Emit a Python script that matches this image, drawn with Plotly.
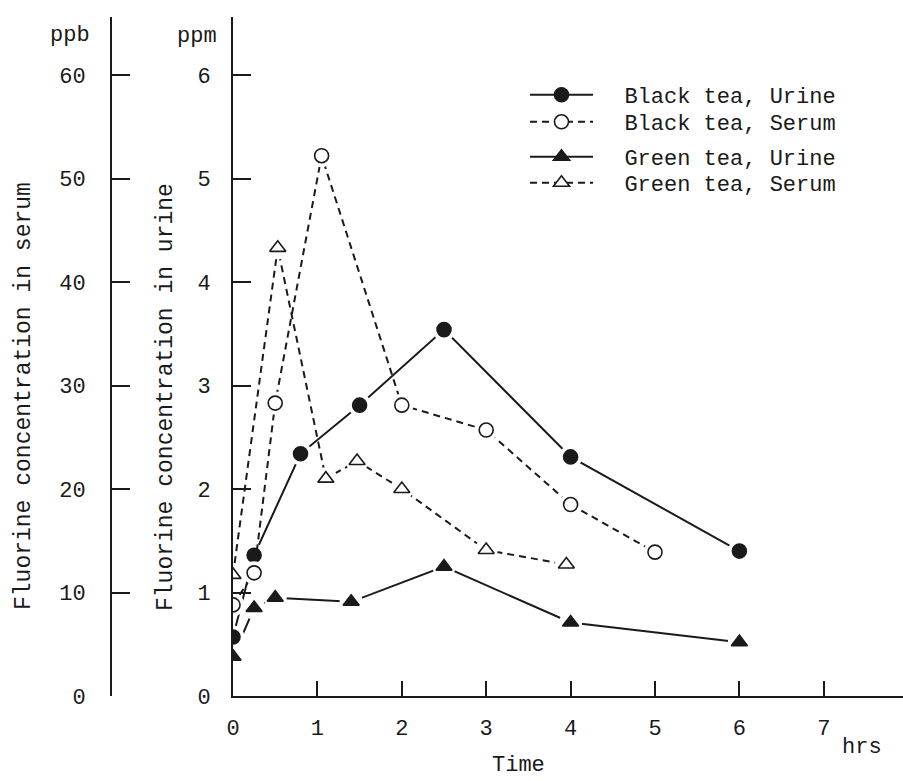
import plotly.graph_objects as go

# ---------------- data ----------------
# Time in hours
bt_urine_t = [0, 0.25, 0.8, 1.5, 2.5, 4, 6]
bt_urine_v = [0.57, 1.36, 2.34, 2.81, 3.54, 2.31, 1.40]          # ppm

bt_serum_t = [0, 0.25, 0.5, 1.05, 2, 3, 4, 5]
bt_serum_v = [8.8, 11.9, 28.3, 52.2, 28.1, 25.7, 18.5, 13.9]      # ppb

gt_urine_t = [0, 0.25, 0.5, 1.4, 2.5, 4, 6]
gt_urine_v = [0.38, 0.85, 0.95, 0.91, 1.25, 0.71, 0.52]          # ppm

gt_serum_t = [0, 0.53, 1.1, 1.47, 2, 3, 3.95]
gt_serum_v = [11.7, 43.3, 21.0, 22.7, 20.0, 14.1, 12.7]          # ppb

x_ticks = [0, 1, 2, 3, 4, 5, 6, 7]
urine_ticks = [0, 1, 2, 3, 4, 5, 6]
serum_ticks = [0, 10, 20, 30, 40, 50, 60]

series_names = ["Black tea, Urine", "Black tea, Serum",
                "Green tea, Urine", "Green tea, Serum"]

# ---------------- layout geometry ----------------
W, H = 903, 781
X0, X_PER_HR = 233, 84.4
Y0, Y_PER_UNIT, TOP = 696, 103.5, 17
SERUM_AXIS_X = 111

FONT = "Liberation Mono, Courier New, monospace"
INK = "#1a1a1a"
FS = 22
NB = "\u00a0"

def px(x):
    return x / W

def py(y):
    return 1 - y / H

x_max = (W - X0) / X_PER_HR
y_max = (Y0 - TOP) / Y_PER_UNIT

fig = go.Figure()

specs = [
    dict(name=series_names[0], t=bt_urine_t, v=bt_urine_v, yaxis="y",
         dash="solid", symbol="circle", fill=INK, legend="legend"),
    dict(name=series_names[1], t=bt_serum_t, v=bt_serum_v, yaxis="y2",
         dash="7px,5px", symbol="circle", fill="white", legend="legend2"),
    dict(name=series_names[2], t=gt_urine_t, v=gt_urine_v, yaxis="y",
         dash="solid", symbol="triangle-up", fill=INK, legend="legend3"),
    dict(name=series_names[3], t=gt_serum_t, v=gt_serum_v, yaxis="y2",
         dash="7px,5px", symbol="triangle-up", fill="white", legend="legend4"),
]

for axis in ["y", "y2"]:
    group = [s for s in specs if s["yaxis"] == axis]
    for s in group:
        fig.add_trace(go.Scatter(
            x=s["t"], y=s["v"], yaxis=s["yaxis"], name=NB * 2 + s["name"],
            mode="lines+markers", legend=s["legend"],
            line=dict(color=INK, width=2, dash=s["dash"]),
            marker=dict(symbol=s["symbol"], size=14, color=s["fill"],
                        line=dict(color=INK, width=1.6)),
            hoverinfo="skip"))
    # white halos -> small gaps between lines and markers
    for s in group:
        fig.add_trace(go.Scatter(
            x=s["t"], y=s["v"], yaxis=s["yaxis"], mode="markers",
            showlegend=False, hoverinfo="skip",
            marker=dict(symbol="circle", size=23, color="white",
                        line=dict(width=0))))
    for s in group:
        fig.add_trace(go.Scatter(
            x=s["t"], y=s["v"], yaxis=s["yaxis"], mode="markers",
            showlegend=False, hoverinfo="skip",
            marker=dict(symbol=s["symbol"], size=14, color=s["fill"],
                        line=dict(color=INK, width=1.6))))

tickfont = dict(family=FONT, size=FS, color=INK)

legend_rows = [95, 122, 157, 183]
legend_common = dict(x=px(525), xanchor="left", yanchor="middle",
                     font=dict(family=FONT, size=FS, color=INK),
                     bgcolor="rgba(0,0,0,0)", borderwidth=0,
                     itemwidth=63, itemclick=False, itemdoubleclick=False)

axis_common = dict(showline=True, linecolor=INK, linewidth=2, tickcolor=INK,
                   tickwidth=2, ticks="inside", showgrid=False, zeroline=False,
                   tickfont=tickfont, fixedrange=True, automargin=False)

fig.update_layout(
    width=W, height=H, autosize=False,
    margin=dict(l=0, r=0, t=0, b=0, pad=0, autoexpand=False),
    paper_bgcolor="white", plot_bgcolor="white",
    showlegend=True,
    xaxis=dict(domain=[px(X0), 1], range=[0, x_max], tickvals=x_ticks,
               ticklen=15, ticklabelstandoff=11, **axis_common),
    yaxis=dict(domain=[py(Y0), py(TOP)], range=[0, y_max],
               tickvals=urine_ticks, ticklen=18, ticklabelstandoff=16,
               anchor="x", **axis_common),
    yaxis2=dict(range=[0, y_max * 10], overlaying="y", anchor="free",
                position=px(SERUM_AXIS_X), side="left",
                tickvals=serum_ticks, ticklen=18, ticklabelstandoff=20,
                **axis_common),
    legend=dict(y=py(legend_rows[0]), **legend_common),
    legend2=dict(y=py(legend_rows[1]), **legend_common),
    legend3=dict(y=py(legend_rows[2]), **legend_common),
    legend4=dict(y=py(legend_rows[3]), **legend_common),
)

texts = [
    ("ppb", 70, 35, 0, FS),
    ("ppm", 197, 36, 0, FS),
    ("hrs", 862, 747, 0, FS),
    ("Time", 518, 765, 0, FS),
    ("Fluorine concentration in serum", 24, 396, -90, 23),
    ("Fluorine concentration in urine", 166, 397, -90, 23),
]
for txt, x, y, ang, size in texts:
    fig.add_annotation(text=txt, x=px(x), y=py(y), xref="paper", yref="paper",
                       xanchor="center", yanchor="middle", showarrow=False,
                       textangle=ang, font=dict(family=FONT, size=size, color=INK))

fig.write_html("out.html", config={"displayModeBar": False},
               post_script="document.body.style.margin='0';")
